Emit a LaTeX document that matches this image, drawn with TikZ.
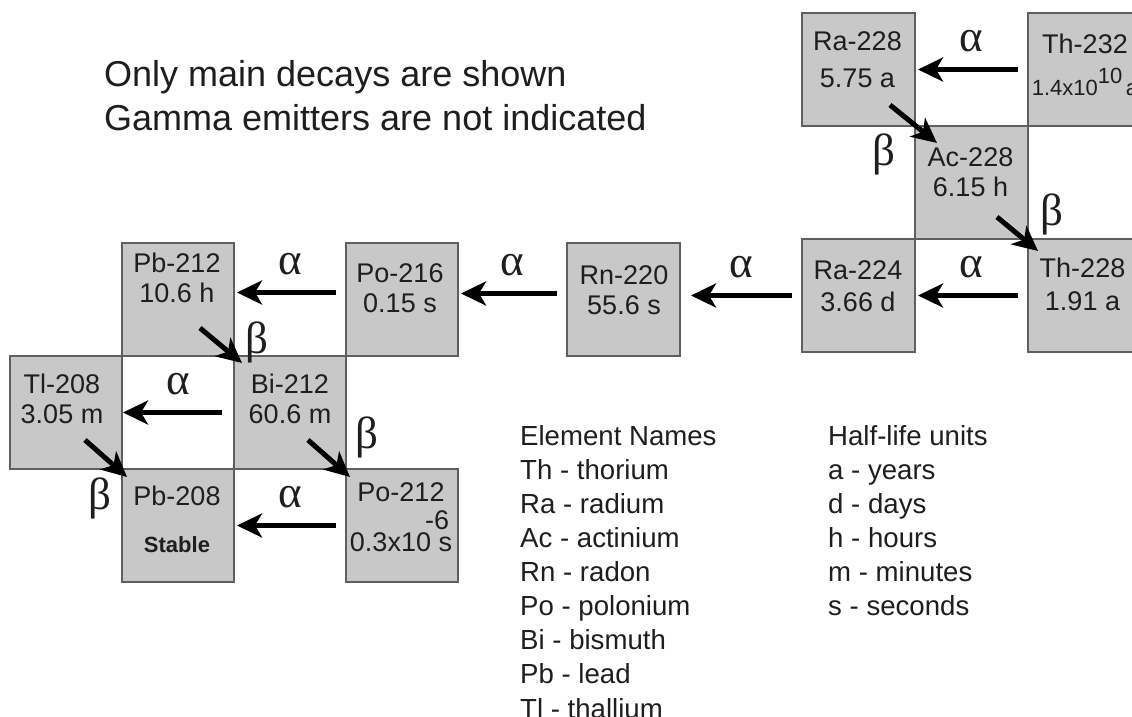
\documentclass[tikz,border=0pt]{standalone}
\usepackage{fontspec}
\setmainfont{Liberation Sans}
\newfontfamily\greekfont{Liberation Serif}
\usetikzlibrary{arrows.meta}
\definecolor{cellfill}{RGB}{200,200,200}
\definecolor{cellline}{RGB}{95,95,95}
\definecolor{ink}{RGB}{30,30,30}

\begin{document}
\begin{tikzpicture}[x=1pt,y=-1pt,
  cell/.style={draw=cellline,fill=cellfill,line width=2pt,minimum width=113pt,minimum height=113pt,inner sep=0pt,outer sep=0pt},
  iso/.style={text=ink,align=center,inner sep=0pt,font=\fontsize{27}{30}\selectfont},
  decay/.style={line width=5pt,-{Stealth[length=25pt,width=24pt,inset=7pt]}},
  greek/.style={text=ink,inner sep=0pt,font=\greekfont\fontsize{45}{50}\selectfont},
  legend/.style={text=ink,align=left,anchor=north west,inner sep=0pt,font=\fontsize{27.6}{34.1}\selectfont}]
\useasboundingbox (0,0) rectangle (1132,716);
\clip (0,0) rectangle (1132,716);
% thorium end of the chain
\node[cell] (ra228) at (858.5,69.5) {};
\node[cell] (th232) at (1084.5,69.5) {};
\node[cell] (ac228) at (971.5,182.5) {};
\node[cell] (ra224) at (858.5,295.5) {};
\node[cell] (th228) at (1084.5,295.5) {};
\node[cell] (rn220) at (623.5,299.5) {};
% lead end of the chain
\node[cell,minimum width=112pt] (po216) at (402,299.5) {};
\node[cell,minimum width=112pt] (pb212) at (178,299.5) {};
\node[cell,minimum width=112pt] (tl208) at (66,412.5) {};
\node[cell,minimum width=112pt] (bi212) at (290,412.5) {};
\node[cell,minimum width=112pt] (pb208) at (178,525.5) {};
\node[cell,minimum width=112pt] (po212) at (402,525.5) {};
% names and half-lives
\node[iso] (ra228t) at (857.5,60) {Ra-228\\[7pt]5.75 a};
\node[iso] (th232t) at (1085,64.5) {Th-232\\[12pt]{\fontsize{22}{26}\selectfont 1.4x10\smash{\raisebox{12pt}{10}}\,a}};
\node[iso] (ac228t) at (970.5,172.5) {Ac-228\\6.15 h};
\node[iso] (ra224t) at (858,286) {Ra-224\\[2pt]3.66 d};
\node[iso] (th228t) at (1082.5,284) {Th-228\\[3pt]1.91 a};
\node[iso] (rn220t) at (624,290) {Rn-220\\55.6 s};
\node[iso] (po216t) at (400,288) {Po-216\\0.15 s};
\node[iso] (pb212t) at (177,277.5) {Pb-212\\10.6 h};
\node[iso] (tl208t) at (62,398.5) {Tl-208\\3.05 m};
\node[iso] (bi212t) at (290,398.5) {Bi-212\\60.6 m};
\node[iso] (pb208t) at (177,519) {Pb-208\\[17pt]{\bfseries\fontsize{22}{26}\selectfont Stable}};
\node[iso] (po212t) at (401,517.5) {Po-212\\[20pt]0.3x10\rlap{\smash{\raisebox{22pt}{\hspace*{-6pt}-6}}} s};
% alpha decays
\draw[decay,shorten <=10pt,shorten >=3pt](th232.west)--node[greek,above=15pt](al1){α}(ra228.east);
\draw[decay,shorten <=10pt,shorten >=3pt](th228.west)--node[greek,above=15pt](al2){α}(ra224.east);
\draw[decay,shorten <=10pt,shorten >=11pt](ra224.west)--node[greek,above=15pt](al3){α}(ra224.west -| rn220.east);
\draw[decay,shorten <=10pt,shorten >=3pt]([yshift=6pt]rn220.west)--node[greek,above=15pt](al4){α}([yshift=6pt]po216.east);
\draw[decay,shorten <=10pt,shorten >=3pt]([yshift=7pt]po216.west)--node[greek,above=15pt](al5){α}([yshift=7pt]pb212.east);
\draw[decay,shorten <=12pt,shorten >=1pt](bi212.west)--node[greek,above=15pt](al6){α}(tl208.east);
\draw[decay,shorten <=10pt,shorten >=3pt](po212.west)--node[greek,above=15pt](al7){α}(pb208.east);
% beta decays
\draw[decay]([shift={(-25,-21)}]ra228.south east)--([shift={(22,17)}]ac228.north west);
\draw[decay]([shift={(-31,-22)}]ac228.south east)--([shift={(10,12)}]th228.north west);
\draw[decay]([shift={(-34,-28)}]pb212.south east)--([shift={(8,7)}]bi212.north west);
\draw[decay]([shift={(-37,-29)}]tl208.south east)--([shift={(5,8)}]pb208.north west);
\draw[decay]([shift={(-38,-29)}]bi212.south east)--([shift={(4,8)}]po212.north west);
\node[greek] (be1) at (884,154) {β};
\node[greek] (be2) at (1052,214) {β};
\node[greek] (be3) at (257,342) {β};
\node[greek] (be4) at (100,498) {β};
\node[greek] (be5) at (367,437) {β};
% notes and keys
\node[legend,font=\fontsize{36}{44}\selectfont] (note) at (104,60) {Only main decays are shown\\Gamma emitters are not indicated};
\node[legend] (names) at (520,425) {Element Names\\Th - thorium\\Ra - radium\\Ac - actinium\\Rn - radon\\Po - polonium\\Bi - bismuth\\Pb - lead\\Tl - thallium};
\node[legend] (units) at (828,425) {Half-life units\\a - years\\d - days\\h - hours\\m - minutes\\s - seconds};
\end{tikzpicture}
\end{document}
